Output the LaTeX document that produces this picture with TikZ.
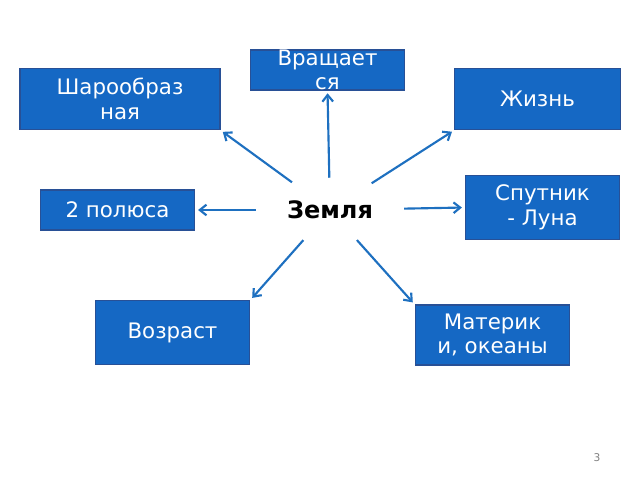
\documentclass[tikz,border=0pt]{standalone}
\usepackage{fontspec}
\setmainfont{DejaVu Sans}
\usetikzlibrary{arrows.meta, shapes.geometric}
\definecolor{boxblue}{RGB}{21,104,196}
\definecolor{boxedge}{RGB}{40,80,150}
\definecolor{arrblue}{RGB}{30,112,192}
\tikzset{
    topic/.style={draw=boxedge, line width=0.9pt, fill=boxblue, text=white, align=center,
        font=\fontsize{16}{18.5}\selectfont, inner sep=0pt},
    arr/.style={draw=arrblue, line width=1.6pt, -{Straight Barb[length=5pt,width=8pt]}, shorten >=2pt}
}
\begin{document}
\begin{tikzpicture}[x=0.75pt, y=-0.75pt]
        \useasboundingbox (0,0) rectangle (640,480);

        \node[ellipse, minimum width=111pt, minimum height=48pt, inner sep=0pt,
            font=\bfseries\fontsize{18}{20}\selectfont] (z) at (330,210) {Земля};

        % boxes
        \node[topic, minimum width=116pt, minimum height=30pt] (rot) at (327.5,70) {};
        \node[text=white, align=center, font=\fontsize{16}{18.5}\selectfont] at (327.5,70) {Вращает\\ся};
        \node[topic, minimum width=150pt, minimum height=46pt] (shar) at (120,99) {Шарообраз\\ная};
        \node[topic, minimum width=124pt, minimum height=46pt] (life) at (537.5,99) {Жизнь};
        \node[topic, minimum width=116pt, minimum height=30pt] (pol) at (117.5,210) {2 полюса};
        \node[topic, minimum width=116pt, minimum height=48pt] (moon) at (542.5,207.5) {Спутник\\- Луна};
        \node[topic, minimum width=116pt, minimum height=48pt] (age) at (172.5,332.5) {Возраст};
        \node[topic, minimum width=116pt, minimum height=45pt] (mat) at (492.5,335) {Материк\\и, океаны};

        % arrows
        \draw[arr] (z) -- (rot.south);
        \draw[arr] (z) -- (shar.south east);
        \draw[arr] (z) -- (life.south west);
        \draw[arr] (z) -- (pol.east);
        \draw[arr] (z) -- (moon.west);
        \draw[arr] (z) -- (age.north east);
        \draw[arr] (z) -- (mat.north west);

        \node[text=gray, font=\fontsize{8}{9}\selectfont] (page) at (597,458) {3};
    \end{tikzpicture}
\end{document}
